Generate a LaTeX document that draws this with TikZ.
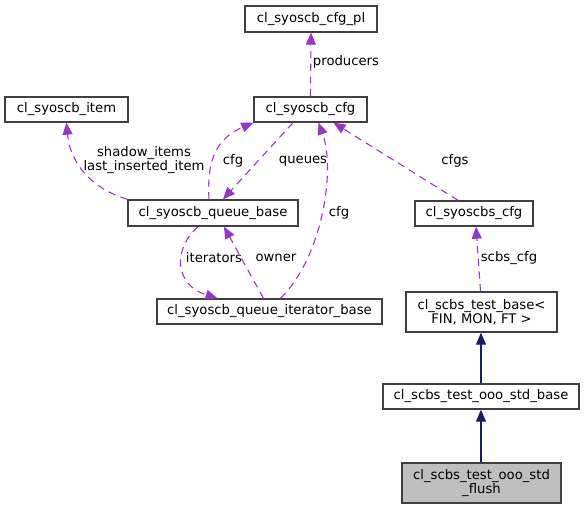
\documentclass[tikz,border=0pt]{standalone}
\usepackage{fontspec}
\setmainfont{DejaVu Sans}
\usetikzlibrary{arrows.meta}
\definecolor{deppurple}{HTML}{9A32CD}
\definecolor{inhnavy}{HTML}{191970}
\definecolor{boxline}{HTML}{404040}
\begin{document}
\begin{tikzpicture}[x=0.75pt,y=-0.75pt,
  every node/.style={font=\fontsize{9.9pt}{10.75pt}\selectfont, inner sep=0pt},
  box/.style={draw=boxline, line width=1pt, fill=white, align=center, minimum height=18.75pt},
  twoline/.style={box, minimum height=30pt},
  dep/.style={draw=deppurple, line width=0.8pt, dash pattern=on 5.5pt off 4pt,
    -{Triangle[length=9pt,width=7.5pt,fill=deppurple]}},
  inh/.style={draw=inhnavy, line width=0.8pt, -{Triangle[length=9pt,width=7.5pt,fill=inhnavy]}},
  lbl/.style={text=black, align=center}]
\useasboundingbox (0,0) rectangle (585,509);
% nodes
\node[box, minimum width=99pt, minimum height=19.5pt] (cfgpl) at (311,19) {cl\_syoscb\_cfg\_pl};
\node[box, minimum width=92.25pt] (item) at (66.5,109.5) {cl\_syoscb\_item};
\node[box, minimum width=84.75pt] (cfg) at (310.5,109.5) {cl\_syoscb\_cfg};
\node[box, minimum width=127.5pt, minimum height=19.5pt] (qbase) at (213,213) {cl\_syoscb\_queue\_base};
\node[box, minimum width=168.75pt] (iter) at (269.5,311.5) {cl\_syoscb\_queue\_iterator\_base};
\node[box, minimum width=88.5pt] (scfg) at (474,213.5) {cl\_syoscbs\_cfg};
\node[twoline, minimum width=113.25pt] (tbase) at (481.5,312) {cl\_scbs\_test\_base<\\ FIN, MON, FT >};
\node[box, minimum width=147pt] (ooo) at (481,396.5) {cl\_scbs\_test\_ooo\_std\_base};
\node[twoline, minimum width=119.25pt, fill=black!25] (flush) at (481.5,483) {cl\_scbs\_test\_ooo\_std\\\_flush};
% connectors
\draw[dep] (cfg.north) -- (cfgpl.south);
\draw[dep] (qbase.north west) .. controls (90,188) and (70,162) .. (item.south);
\draw[dep] ([xshift=-3pt]qbase.north) .. controls (207,165) and (213,140) .. (cfg.south west);
\draw[dep] ([xshift=-13.125pt]cfg.south) -- ([xshift=7.5pt]qbase.north);
\draw[dep] ([xshift=-11.25pt]qbase.south) .. controls (172,250) and (175,285) .. ([xshift=-39pt]iter.north);
\draw[dep] ([xshift=-4.5pt]iter.north) -- ([xshift=8.25pt]qbase.south);
\draw[dep] ([xshift=8.25pt]iter.north) .. controls (322,258) and (336,170) .. ([xshift=6pt]cfg.south);
\draw[dep] ([xshift=-12pt]scfg.north) -- ([xshift=17.25pt]cfg.south);
\draw[dep] ([xshift=-0.75pt]tbase.north) -- ([xshift=1.5pt]scfg.south);
\draw[inh] (ooo.north) -- ([xshift=-0.375pt]tbase.south);
\draw[inh] ([xshift=-0.375pt]flush.north) -- (ooo.south);
% labels
\node[lbl] (lproducers) at (346,62) {producers};
\node[lbl] (lshadow) at (144,160) {shadow\_items\\last\_inserted\_item};
\node[lbl] (lcfga) at (233,161) {cfg};
\node[lbl] (lqueues) at (303,161) {queues};
\node[lbl] (literators) at (214,258) {iterators};
\node[lbl] (lowner) at (276,258) {owner};
\node[lbl] (lcfgb) at (339,213) {cfg};
\node[lbl] (lcfgs) at (455,161) {cfgs};
\node[lbl] (lscbs) at (509,258) {scbs\_cfg};
\end{tikzpicture}
\end{document}
